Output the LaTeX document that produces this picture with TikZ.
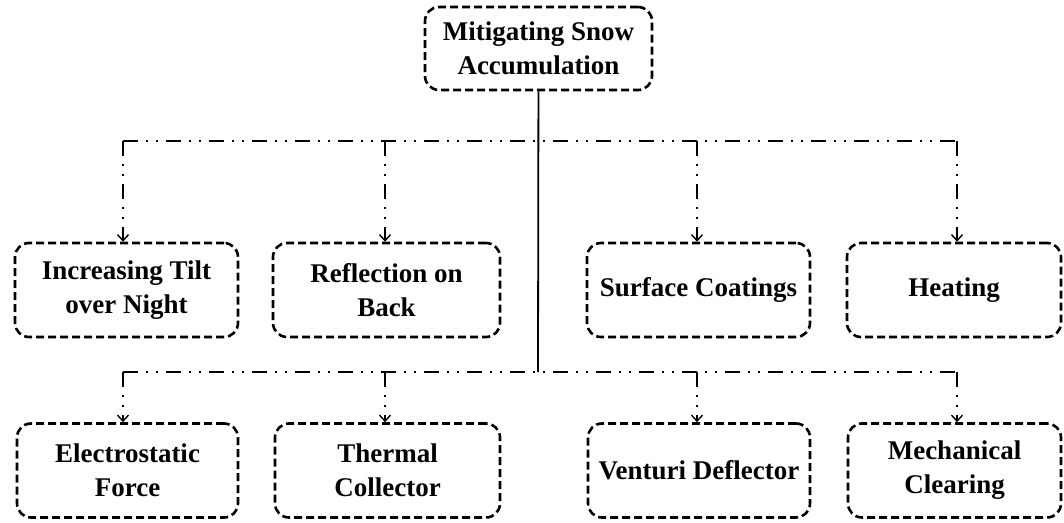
\documentclass[tikz,border=0pt]{standalone}
\usepackage{fontspec}
\setmainfont{Liberation Serif}[BoldFont={Liberation Serif Bold}]
\usetikzlibrary{arrows.meta, positioning}

\begin{document}
\begin{tikzpicture}[
  x=0.5pt, y=-0.5pt,
  every node/.style = {font=\rmfamily\bfseries\fontsize{13.5}{17}\selectfont},
  topic/.style  = {rectangle, rounded corners=7pt, draw=black,
                   line width=1.3pt, dash pattern=on 4pt off 2pt,
                   minimum height=47pt, align=center, inner sep=2pt},
  trunk/.style  = {line width=0.9pt},
  branch/.style = {line width=0.7pt,
                   dash pattern=on 7.5pt off 4pt on 1pt off 4pt on 1pt off 4pt},
  arr/.style    = {branch, -{Straight Barb[length=3pt, width=5.5pt]}}
]
\useasboundingbox (0,0) rectangle (1064,523);

%% ── ROOT ─────────────────────────────────────────────────────────
\node[topic, minimum width=113.5pt, minimum height=41.5pt]
      at (538.5, 48.5) (root) {Mitigating Snow\\Accumulation};

%% ── ROW 1 (upper branch) ─────────────────────────────────────────
\node[topic, minimum width=111.5pt] at (126.5, 290) (tilt)    {Increasing Tilt\\over Night};
\node[topic, minimum width=113.5pt] at (386.5, 290) (reflect) {Reflection on\\Back};
\node[topic, minimum width=111.5pt] at (698.5, 290) (coat)    {Surface Coatings};
\node[topic, minimum width=107pt]   at (954,   290) (heat)    {Heating};

%% ── ROW 2 (lower branch) ─────────────────────────────────────────
\node[topic, minimum width=110.5pt] at (127.5, 470.5) (electro) {Electrostatic\\Force};
\node[topic, minimum width=112.5pt] at (387.5, 470.5) (thermal) {Thermal\\Collector};
\node[topic, minimum width=111pt]   at (699,   470.5) (venturi) {Venturi Deflector};
\node[topic, minimum width=106.5pt] at (954.5, 470.5) (mech)    {Mechanical\\Clearing};

%% ── BRANCH POINTS ────────────────────────────────────────────────
\coordinate (hub)  at (538, 372);
\coordinate (upL)  at (123, 141);
\coordinate (upR)  at (957, 141);
\coordinate (loL)  at (123, 372);
\coordinate (loR)  at (957, 372);

%% ── CONNECTORS ───────────────────────────────────────────────────
\draw[trunk]  (root) -- (hub);
\draw[branch] (upL) -- (upR);
\draw[branch] (loL) -- (loR);

\draw[arr] (upL)      -- (upL |- tilt.north);
\draw[arr] (385, 141) -- (385, 141 |- reflect.north);
\draw[arr] (697, 141) -- (697, 141 |- coat.north);
\draw[arr] (upR)      -- (upR |- heat.north);

\draw[arr] (loL)      -- (loL |- electro.north);
\draw[arr] (385, 372) -- (385, 372 |- thermal.north);
\draw[arr] (697, 372) -- (697, 372 |- venturi.north);
\draw[arr] (loR)      -- (loR |- mech.north);

\end{tikzpicture}
\end{document}
